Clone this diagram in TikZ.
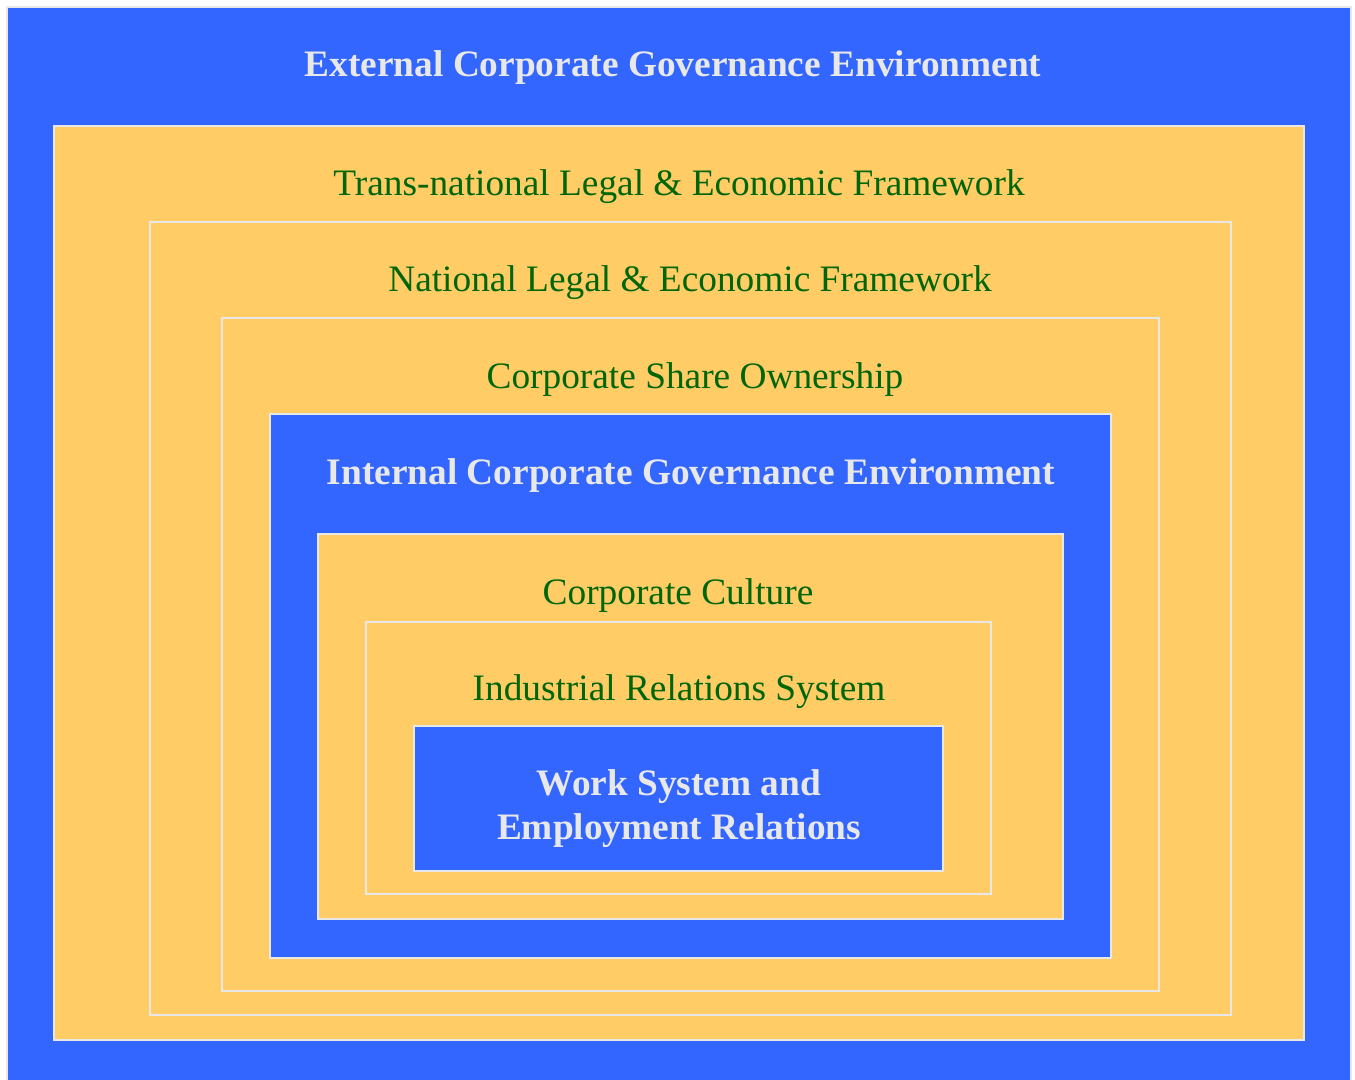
\documentclass[tikz,border=0pt]{standalone}
\usepackage{fontspec}
\setmainfont{Liberation Serif}
\usepackage{tikz}
\usetikzlibrary{positioning}

\definecolor{govblue}{HTML}{3366FF}
\definecolor{frameyellow}{HTML}{FFCC66}
\definecolor{labelgreen}{HTML}{006600}
\definecolor{edgegray}{HTML}{E8E8E8}

\tikzset{
  bluebox/.style={fill=govblue, draw=edgegray, line width=1.1pt},
  yellowbox/.style={fill=frameyellow, draw=edgegray, line width=1.1pt},
  greenlabel/.style={anchor=base, inner sep=0pt, text=labelgreen, font=\fontsize{28}{33}\selectfont},
  whitelabel/.style={anchor=base, inner sep=0pt, text=edgegray, font=\fontsize{28}{33}\selectfont\bfseries}
}

\begin{document}
\begin{tikzpicture}[x=0.75pt, y=-0.75pt]
\useasboundingbox (0,0) rectangle (1355,1080);

% boxes, outside in
\draw [bluebox] (7,7) rectangle (1351,1090);
\draw [yellowbox] (54,126) rectangle (1304,1040);
\draw [yellowbox] (150,222) rectangle (1231,1015);
\draw [yellowbox] (222,318) rectangle (1159,991);
\draw [bluebox] (270,414) rectangle (1111,958);
\draw [yellowbox] (318,534) rectangle (1063,919);
\draw [yellowbox] (366,622) rectangle (991,894);
\draw [bluebox] (414,726) rectangle (943,871);

% labels
\node[whitelabel] (external) at (673,77) {External Corporate Governance Environment};
\node[greenlabel] (transnat) at (679,196) {Trans-national Legal \& Economic Framework};
\node[greenlabel] (national) at (690,292) {National Legal \& Economic Framework};
\node[greenlabel] (shareown) at (695,388) {Corporate Share Ownership};
\node[whitelabel] (internal) at (691,484) {Internal Corporate Governance Environment};
\node[greenlabel] (culture) at (678,604) {Corporate Culture};
\node[greenlabel] (indrel) at (679,700) {Industrial Relations System};
\node[whitelabel] (worksys) at (679,795) {Work System and};
\node[whitelabel] (employ) at (679,839) {Employment Relations};
\end{tikzpicture}
\end{document}
